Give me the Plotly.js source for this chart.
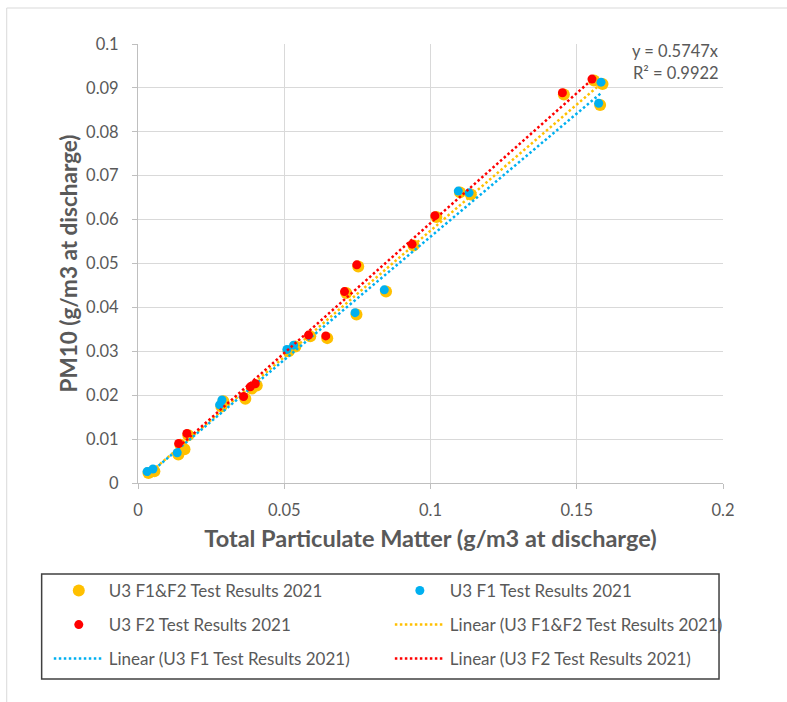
<!DOCTYPE html>
<html>
<head>
<meta charset="utf-8">
<script src="https://cdn.plot.ly/plotly-3.0.1.min.js"></script>
<style>html,body{margin:0;padding:0;background:#fff;}#chart{width:787px;height:702px;}</style>
</head>
<body>
<div id="chart"></div>
<script>
// Data (g/m3 at discharge)
const comboX = [0.0036, 0.0056, 0.0138, 0.0159, 0.0145, 0.0172, 0.0285, 0.0292, 0.0367, 0.0389, 0.0406, 0.0515, 0.0538, 0.0589, 0.0647, 0.0712, 0.0747, 0.0753, 0.0848, 0.0942, 0.1020, 0.1101, 0.1138, 0.1456, 0.1559, 0.1580, 0.1588];
const comboY = [0.0023, 0.0027, 0.0065, 0.0077, 0.0087, 0.0109, 0.0174, 0.0186, 0.0192, 0.0215, 0.0222, 0.0300, 0.0311, 0.0334, 0.0330, 0.0433, 0.0384, 0.0493, 0.0436, 0.0541, 0.0606, 0.0662, 0.0657, 0.0885, 0.0917, 0.0861, 0.0909];
const f1X = [0.0031, 0.0051, 0.0134, 0.0279, 0.0287, 0.0509, 0.0532, 0.0742, 0.0842, 0.1095, 0.1132, 0.1575, 0.1583];
const f1Y = [0.0026, 0.0032, 0.0069, 0.0178, 0.0189, 0.0304, 0.0314, 0.0388, 0.0440, 0.0665, 0.0661, 0.0865, 0.0913];
const f2X = [0.0139, 0.0167, 0.0361, 0.0384, 0.0401, 0.0583, 0.0642, 0.0706, 0.0748, 0.0937, 0.1015, 0.1451, 0.1552];
const f2Y = [0.0090, 0.0113, 0.0197, 0.0219, 0.0226, 0.0337, 0.0335, 0.0436, 0.0497, 0.0544, 0.0609, 0.0889, 0.0920];
// Trendline slopes (linear, intercept 0)
const slopeCombo = 0.5747, slopeF1 = 0.561, slopeF2 = 0.592;
const seriesNames = ['U3 F1&F2 Test Results 2021', 'U3 F1 Test Results 2021', 'U3 F2 Test Results 2021'];
const eqText = ['y = 0.5747x', 'R² = 0.9922'];
const xTicks = [0, 0.05, 0.1, 0.15, 0.2];
const yTicks = [0, 0.01, 0.02, 0.03, 0.04, 0.05, 0.06, 0.07, 0.08, 0.09, 0.1];

const ORANGE = '#FFC000', BLUE = '#00B0F0', RED = '#FF0000';
const FONT = 'Lato, "Open Sans", sans-serif';
const GREY = '#595959';

function trend(xs, m) {
  const lo = Math.min(...xs), hi = Math.max(...xs);
  return {x: [lo, hi], y: [lo * m, hi * m]};
}
const tC = trend(comboX, slopeCombo), t1 = trend(f1X, slopeF1), t2 = trend(f2X, slopeF2);
const dotLine = (c) => ({color: c, width: 2.5, dash: '2.5px,2.5px'});

const traces = [
  {x: comboX, y: comboY, mode: 'markers', type: 'scatter', name: seriesNames[0], marker: {color: ORANGE, size: 12}, legend: 'legend'},
  {x: tC.x, y: tC.y, mode: 'lines', type: 'scatter', name: 'Linear (' + seriesNames[0] + ')', line: dotLine(ORANGE), legend: 'legend4'},
  {x: f1X, y: f1Y, mode: 'markers', type: 'scatter', name: seriesNames[1], marker: {color: BLUE, size: 9}, legend: 'legend2'},
  {x: t1.x, y: t1.y, mode: 'lines', type: 'scatter', name: 'Linear (' + seriesNames[1] + ')', line: dotLine(BLUE), legend: 'legend5'},
  {x: f2X, y: f2Y, mode: 'markers', type: 'scatter', name: seriesNames[2], marker: {color: RED, size: 9}, legend: 'legend3'},
  {x: t2.x, y: t2.y, mode: 'lines', type: 'scatter', name: 'Linear (' + seriesNames[2] + ')', line: dotLine(RED), legend: 'legend6'}
];

const COL1 = -0.1525, COL2 = 0.4305;
const ROW1 = -0.246, ROW2 = -0.3235, ROW3 = -0.4009;
const leg = (x, y) => ({
  orientation: 'v', x: x, xanchor: 'left', y: y, yanchor: 'middle', itemwidth: 50,
  font: {family: FONT, size: 17, color: GREY}, bgcolor: 'rgba(0,0,0,0)', borderwidth: 0
});

const layout = {
  width: 787, height: 702,
  margin: {l: 137.5, r: 63.5, t: 44, b: 219},
  paper_bgcolor: '#fff', plot_bgcolor: '#fff',
  font: {family: FONT, color: GREY, size: 16},
  showlegend: true,
  xaxis: {
    range: [0, 0.2], tickvals: xTicks, ticktext: xTicks.map(String),
    showgrid: true, gridcolor: '#d9d9d9', gridwidth: 1,
    showline: true, linecolor: '#bfbfbf', linewidth: 1,
    ticks: 'outside', ticklen: 5, tickcolor: '#bfbfbf',
    zeroline: false, ticklabelstandoff: 7,
    tickfont: {family: FONT, size: 16.5, color: GREY},
    title: {text: '<b>Total Particulate Matter (g/m3 at discharge)</b>', font: {family: FONT, size: 23.5, color: GREY}, standoff: 11}
  },
  yaxis: {
    range: [0, 0.1], tickvals: yTicks, ticktext: yTicks.map(String),
    showgrid: true, gridcolor: '#d9d9d9', gridwidth: 1,
    showline: true, linecolor: '#bfbfbf', linewidth: 1,
    ticks: 'outside', ticklen: 5, tickcolor: '#bfbfbf',
    zeroline: false, ticklabelstandoff: 10,
    tickfont: {family: FONT, size: 16.5, color: GREY},
    title: {text: '<b>PM10 (g/m3 at discharge)</b>', font: {family: FONT, size: 22.5, color: GREY}, standoff: 2}
  },
  legend: leg(COL1, ROW1),
  legend2: leg(COL2, ROW1),
  legend3: leg(COL1, ROW2),
  legend4: leg(COL2, ROW2),
  legend5: leg(COL1, ROW3),
  legend6: leg(COL2, ROW3),
  annotations: [
    {xref: 'paper', yref: 'paper', x: 0.997, y: 0.983, xanchor: 'right', yanchor: 'middle', text: eqText[0], showarrow: false, font: {family: FONT, size: 16.5, color: GREY}},
    {xref: 'paper', yref: 'paper', x: 0.997, y: 0.933, xanchor: 'right', yanchor: 'middle', text: eqText[1], showarrow: false, font: {family: FONT, size: 16.5, color: GREY}}
  ],
  shapes: [
    {type: 'rect', xref: 'paper', yref: 'paper', x0: -0.2244, x1: 1.12, y0: -0.505, y1: 1.082, line: {color: '#d9d9d9', width: 1}, fillcolor: 'rgba(0,0,0,0)', layer: 'below'},
    {type: 'rect', xref: 'paper', yref: 'paper', x0: -0.1647, x1: 0.9932, y0: -0.4465, y1: -0.2073, line: {color: '#404040', width: 1.5}, fillcolor: 'rgba(0,0,0,0)'}
  ]
};

Plotly.newPlot('chart', traces, layout, {displayModeBar: false, staticPlot: true});
</script>
</body>
</html>
